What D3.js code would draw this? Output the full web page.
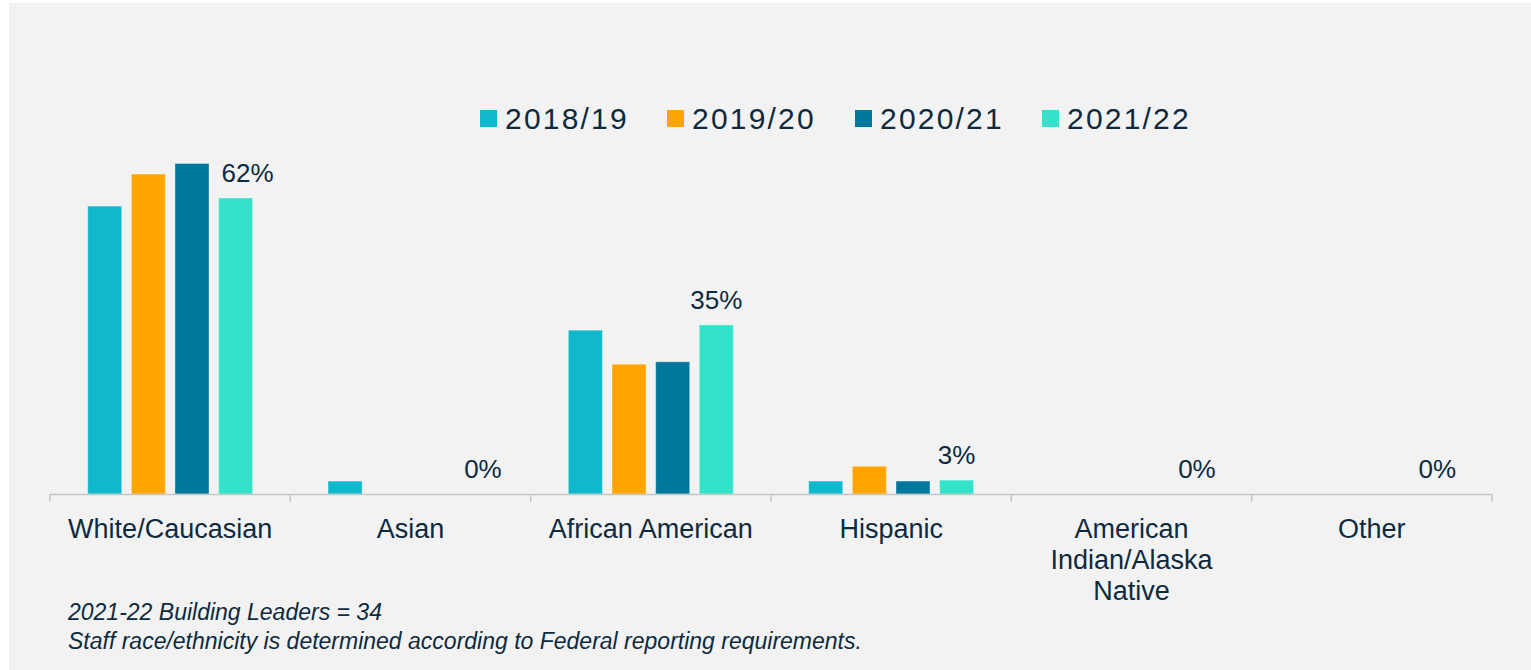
<!DOCTYPE html>
<html>
<head>
<meta charset="utf-8">
<script src="https://cdn.jsdelivr.net/npm/d3@7"></script>
<style>
  html, body { margin: 0; padding: 0; background: #ffffff; }
  svg { display: block; font-family: "Liberation Sans", Arial, sans-serif; }
</style>
</head>
<body>
<div id="chart"></div>
<script>
// chart data
const categories = ["White/Caucasian", "Asian", "African American", "Hispanic", "American Indian/Alaska Native", "Other"];
const seriesNames = ["2018/19", "2019/20", "2020/21", "2021/22"];
const values1819 = [60.1, 2.7, 34.2, 2.7, 0, 0];
const values1920 = [66.8, 0, 27.1, 5.8, 0, 0];
const values2021 = [69.0, 0, 27.6, 2.7, 0, 0];
const values2122 = [61.8, 0, 35.3, 2.9, 0, 0];
const labelSeries = "2021/22"; // only the latest year carries labels
const footnotes = [
    "2021-22 Building Leaders = 34",
    "Staff race/ethnicity is determined according to Federal reporting requirements."
];

const colors = ["#0fb8cd", "#ffa502", "#00789d", "#33e3c9"];
const textColor = "#0e2a3e";

const W = 1531, H = 670;
const svg = d3.select("#chart").append("svg")
    .attr("width", W)
    .attr("height", H);

// grey panel
svg.append("rect")
    .attr("x", 9).attr("y", 3)
    .attr("width", W - 9).attr("height", H - 3)
    .attr("fill", "#f2f2f2");

const table = categories.map((c, i) => ({
    cat: c,
    vals: [values1819[i], values1920[i], values2021[i], values2122[i]]
}));

// scales
const x0 = d3.scaleBand().domain(categories).range([50, 1492]).paddingInner(0).paddingOuter(0);
const groupPad = 37.7;
const x1 = d3.scaleBand().domain(seriesNames)
    .range([groupPad, x0.bandwidth() - groupPad])
    .paddingInner(0.22).paddingOuter(0);
const y = d3.scaleLinear().domain([0, 70]).range([494, 158.7]);

// bars
const groups = svg.selectAll(".grp")
    .data(table)
    .enter().append("g")
    .attr("class", "grp")
    .attr("transform", d => "translate(" + x0(d.cat) + ",0)");

groups.selectAll("rect")
    .data(d => d.vals.map((v, j) => ({ key: seriesNames[j], v: v, j: j, cat: d.cat })))
    .enter().append("rect")
    .filter(d => d.v > 0)
    .attr("x", d => x1(d.key))
    .attr("y", d => y(d.v))
    .attr("width", x1.bandwidth())
    .attr("height", d => y(0) - y(d.v))
    .attr("fill", d => colors[d.j])
    .attr("stroke", "rgba(255,255,255,0.35)")
    .attr("stroke-width", 1);

// data labels (manually nudged in the original for two categories)
const labelNudge = { "White/Caucasian": 12, "Asian": 7 };
groups.append("text")
    .attr("x", d => x1(labelSeries) + x1.bandwidth() / 2 + (labelNudge[d.cat] || 0))
    .attr("y", d => y(d.vals[3]) - 16)
    .attr("text-anchor", "middle")
    .attr("font-size", 26)
    .attr("fill", textColor)
    .text(d => Math.round(d.vals[3]) + "%");

// x axis
const xAxis = svg.append("g");
xAxis.append("line")
    .attr("x1", x0.range()[0]).attr("x2", x0.range()[1])
    .attr("y1", y(0) + 0.5).attr("y2", y(0) + 0.5)
    .attr("stroke", "#c6c6c6").attr("stroke-width", 1.5);
const bounds = categories.map(c => x0(c)).concat([x0.range()[1]]);
xAxis.selectAll(".tick")
    .data(bounds)
    .enter().append("line")
    .attr("x1", d => d).attr("x2", d => d)
    .attr("y1", y(0)).attr("y2", y(0) + 8)
    .attr("stroke", "#c6c6c6").attr("stroke-width", 1.5);

// category labels, wrapped to the band
const catText = svg.selectAll(".cat")
    .data(categories)
    .enter().append("text")
    .attr("class", "cat")
    .attr("text-anchor", "middle")
    .attr("font-size", 27)
    .attr("fill", textColor);

catText.each(function(d) {
    const t = d3.select(this);
    const cx = x0(d) + x0.bandwidth() / 2;
    const words = d.split(" ");
    let lines = [], line = [];
    const probe = t.append("tspan");
    words.forEach(w => {
        const test = line.concat([w]).join(" ");
        probe.text(test);
        if (probe.node().getComputedTextLength() > 228 && line.length) {
            lines.push(line.join(" "));
            line = [w];
        } else {
            line.push(w);
        }
    });
    lines.push(line.join(" "));
    probe.remove();
    lines.forEach((l, k) => {
        t.append("tspan")
            .attr("x", cx)
            .attr("y", 538 + k * 31)
            .text(l);
    });
});

// legend
const legendX = [480, 667, 855, 1042];
const legend = svg.selectAll(".leg")
    .data(seriesNames)
    .enter().append("g")
    .attr("class", "leg")
    .attr("transform", (d, i) => "translate(" + legendX[i] + ",110)");
legend.append("rect")
    .attr("width", 17).attr("height", 17)
    .attr("fill", (d, i) => colors[i]);
legend.append("text")
    .attr("x", 25).attr("y", 19)
    .attr("font-size", 30)
    .attr("letter-spacing", 2.2)
    .attr("fill", textColor)
    .text(d => d);

// footnotes
svg.selectAll(".foot")
    .data(footnotes)
    .enter().append("text")
    .attr("x", 68)
    .attr("y", (d, i) => 620 + i * 29)
    .attr("font-size", 23)
    .attr("font-style", "italic")
    .attr("fill", textColor)
    .text(d => d);
</script>
</body>
</html>
